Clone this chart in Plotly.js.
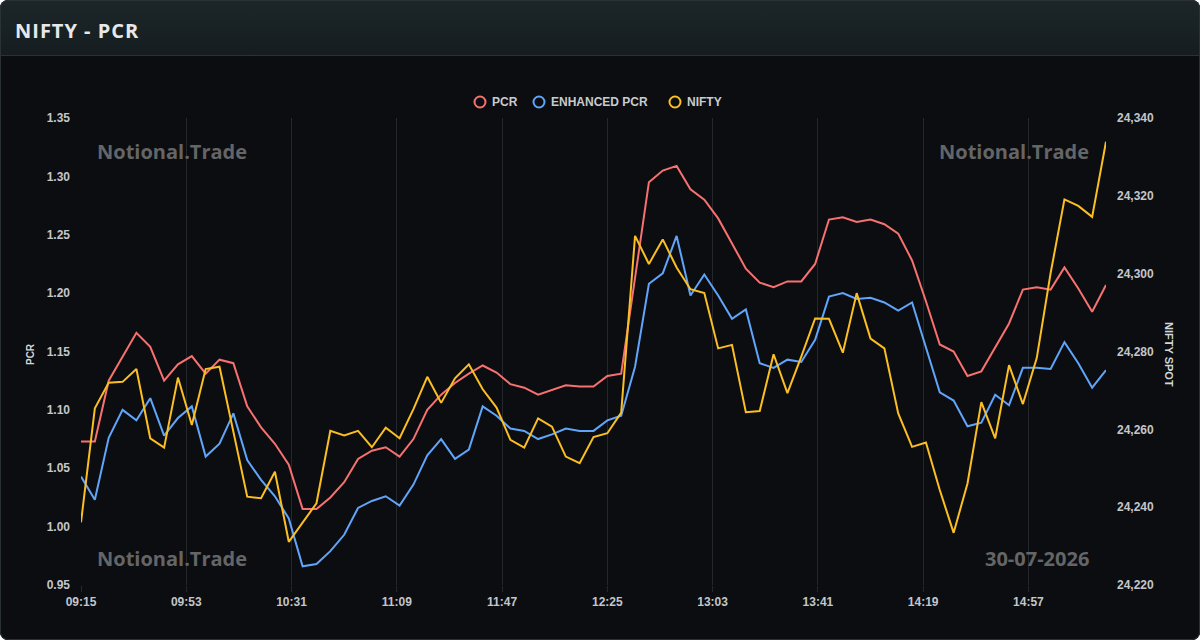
<!DOCTYPE html>
<html>
<head>
<meta charset="utf-8">
<title>NIFTY - PCR</title>
<script src="https://cdn.plot.ly/plotly-3.0.1.min.js"></script>
<style>
  html, body { margin: 0; padding: 0; background: #ffffff; }
  #card { position: relative; width: 1200px; height: 640px; border-radius: 8px; overflow: hidden; background: #0c0d10; }
  #head { position: absolute; left: 0; top: 0; width: 1200px; height: 55px;
          background: linear-gradient(#1c2629, #151d20); border-bottom: 1px solid #2a3235; }
  #head h1 { margin: 0; position: absolute; left: 15px; top: 0; line-height: 61px; letter-spacing: 1px;
             font-family: "Open Sans", "Noto Sans", sans-serif; font-weight: 700; font-size: 20px; color: #e6e8ea; }
  #chart { position: absolute; left: 0; top: 56px; width: 1200px; height: 584px; }
  #frame { position: absolute; left: 0; top: 0; right: 0; bottom: 0; border: 1px solid #2a3235;
           border-radius: 8px; pointer-events: none; }
</style>
</head>
<body>
<div id="card">
  <div id="head"><h1>NIFTY - PCR</h1></div>
  <div id="chart"></div>
  <div id="frame"></div>
</div>
<script>
// 5-minute snapshots for the session
const times = [
  "09:15","09:20","09:25","09:30","09:35","09:40","09:45","09:50","09:55",
  "10:00","10:05","10:10","10:15","10:20","10:25","10:30","10:35","10:40","10:45","10:50","10:55",
  "11:00","11:05","11:10","11:15","11:20","11:25","11:30","11:35","11:40","11:45","11:50","11:55",
  "12:00","12:05","12:10","12:15","12:20","12:25","12:30","12:35","12:40","12:45","12:50","12:55",
  "13:00","13:05","13:10","13:15","13:20","13:25","13:30","13:35","13:40","13:45","13:50","13:55",
  "14:00","14:05","14:10","14:15","14:20","14:25","14:30","14:35","14:40","14:45","14:50","14:55",
  "15:00","15:05","15:10","15:15","15:20","15:25"
];

const pcr = [
  1.073,1.073,1.125,1.146,1.166,1.154,1.125,1.139,1.146,1.131,
  1.143,1.140,1.103,1.085,1.071,1.053,1.015,1.015,1.025,1.038,
  1.058,1.065,1.068,1.060,1.075,1.100,1.113,1.123,1.131,1.138,
  1.132,1.122,1.119,1.113,1.117,1.121,1.120,1.120,1.129,1.131,
  1.213,1.295,1.305,1.309,1.289,1.280,1.264,1.243,1.221,1.209,
  1.205,1.210,1.210,1.225,1.263,1.265,1.261,1.263,1.259,1.251,
  1.228,1.193,1.156,1.150,1.129,1.133,1.153,1.174,1.203,1.205,
  1.203,1.222,1.204,1.184,1.207
];

const enhancedPcr = [
  1.043,1.023,1.076,1.100,1.091,1.110,1.078,1.093,1.103,1.060,
  1.071,1.097,1.057,1.040,1.026,1.007,0.966,0.968,0.979,0.993,
  1.016,1.022,1.026,1.018,1.036,1.061,1.075,1.058,1.066,1.103,
  1.095,1.084,1.082,1.075,1.079,1.084,1.082,1.082,1.091,1.095,
  1.137,1.208,1.217,1.249,1.198,1.216,1.198,1.178,1.186,1.140,
  1.136,1.143,1.141,1.160,1.197,1.200,1.195,1.196,1.192,1.185,
  1.192,1.153,1.115,1.108,1.086,1.089,1.113,1.104,1.136,1.136,
  1.135,1.158,1.140,1.119,1.134
];

const niftySpot = [
  24236.1,24265.4,24272.0,24272.2,24275.5,24257.7,24255.3,24273.3,24261.1,24275.5,
  24276.1,24259.8,24242.7,24242.3,24249.1,24231.1,24235.9,24241.0,24259.6,24258.4,
  24259.6,24255.4,24260.4,24257.7,24265.2,24273.5,24266.8,24273.1,24276.7,24270.3,
  24265.6,24257.3,24255.3,24262.8,24260.7,24253.0,24251.3,24258.0,24259.0,24264.3,
  24309.7,24302.5,24308.8,24301.6,24296.0,24295.0,24280.8,24281.7,24264.4,24264.7,
  24279.3,24269.3,24278.7,24288.5,24288.4,24279.7,24295.0,24283.3,24280.8,24264.1,
  24255.5,24256.6,24244.4,24233.4,24246.1,24267.0,24257.7,24276.5,24266.5,24278.3,
  24300.1,24319.1,24317.4,24314.6,24333.9
];

const seriesNames = ["PCR", "ENHANCED PCR", "NIFTY"];
const sessionDate = "2026-07-30";
const dateLabel = "30-07-2026";
const brand = "Notional.Trade";

const colors = ["#f87171", "#60a5fa", "#fbbf24"];
const x = times.map(t => sessionDate + " " + t);

// plot-area geometry inside the chart div (pixels)
const M = { l: 81, r: 94, t: 62, b: 55 };
const W = 1200, H = 584;
const PW = W - M.l - M.r, PH = H - M.t - M.b;
const px2x = p => (p - M.l) / PW;          // chart-div x pixel -> paper x
const py2y = p => (M.t + PH - p) / PH;     // chart-div y pixel -> paper y

const lineTrace = (y, i, axis) => ({
  type: "scatter", mode: "lines", x: x, y: y, name: seriesNames[i], yaxis: axis,
  line: { color: colors[i], width: 2 }, showlegend: false, hoverinfo: "x+y+name"
});

const data = [
  lineTrace(pcr, 0, "y"),
  lineTrace(enhancedPcr, 1, "y"),
  lineTrace(niftySpot, 2, "y2")
];

const tickFont = { family: "Liberation Sans, Arial, sans-serif", size: 12, color: "#c3c6ca", weight: "bold" };
const markFont = { family: "Open Sans, Noto Sans, sans-serif", size: 20, color: "#646567", weight: "bold" };
const legendFont = { family: "Liberation Sans, Arial, sans-serif", size: 12, color: "#c8cbcf", weight: "bold" };
const gridColor = "#24272c";

// legend row: hollow circle + label per series
const legendY = 46;
const legendCircleX = [480, 539, 675];
const legendShapes = seriesNames.map((n, i) => ({
  type: "circle", xref: "paper", yref: "paper",
  xsizemode: "pixel", ysizemode: "pixel",
  xanchor: px2x(legendCircleX[i]), yanchor: py2y(legendY),
  x0: -5.5, x1: 5.5, y0: -5.5, y1: 5.5,
  line: { color: colors[i], width: 2 }, fillcolor: "rgba(0,0,0,0)"
}));
const legendLabels = seriesNames.map((n, i) => ({
  xref: "paper", yref: "paper", x: px2x(legendCircleX[i] + 9.5), y: py2y(legendY),
  xanchor: "left", yanchor: "middle", text: n, showarrow: false, font: legendFont
}));

const layout = {
  width: W, height: H,
  margin: M,
  paper_bgcolor: "#0c0d10", plot_bgcolor: "#0c0d10",
  font: { family: "Liberation Sans, Arial, sans-serif", color: "#c3c6ca" },
  showlegend: false,
  xaxis: {
    type: "date",
    range: [sessionDate + " 09:15", sessionDate + " 15:25"],
    tick0: sessionDate + " 09:15", dtick: 38 * 60 * 1000, tickformat: "%H:%M",
    showgrid: true, gridcolor: gridColor, gridwidth: 1,
    ticks: "outside", ticklen: 6, tickcolor: gridColor,
    showline: false, zeroline: false, tickfont: tickFont
  },
  yaxis: {
    range: [0.95, 1.35], dtick: 0.05, tickformat: ".2f",
    showgrid: false, zeroline: false, showline: false, ticks: "",
    ticklabelstandoff: 10, tickfont: tickFont
  },
  yaxis2: {
    overlaying: "y", side: "right",
    range: [24220, 24340], dtick: 20, tickformat: ",d",
    showgrid: false, zeroline: false, showline: false, ticks: "",
    ticklabelstandoff: 10, tickfont: tickFont
  },
  shapes: legendShapes,
  annotations: legendLabels.concat([
    { xref: "paper", yref: "paper", x: px2x(95), y: 0.9293, xanchor: "left", yanchor: "middle",
      text: brand, showarrow: false, font: markFont },
    { xref: "paper", yref: "paper", x: px2x(1091), y: 0.9293, xanchor: "right", yanchor: "middle",
      text: brand, showarrow: false, font: markFont },
    { xref: "paper", yref: "paper", x: px2x(95), y: 0.0578, xanchor: "left", yanchor: "middle",
      text: brand, showarrow: false, font: markFont },
    { xref: "paper", yref: "paper", x: px2x(1091), y: 0.0578, xanchor: "right", yanchor: "middle",
      text: dateLabel, showarrow: false, font: markFont },
    { xref: "paper", yref: "paper", x: px2x(30), y: 0.4946, xanchor: "center", yanchor: "middle",
      text: "PCR", textangle: -90, showarrow: false,
      font: { family: "Liberation Sans, Arial, sans-serif", size: 10, color: "#d3d6d9", weight: "bold" } },
    { xref: "paper", yref: "paper", x: px2x(1169), y: 0.4946, xanchor: "center", yanchor: "middle",
      text: "NIFTY SPOT", textangle: 90, showarrow: false,
      font: { family: "Liberation Sans, Arial, sans-serif", size: 11, color: "#d3d6d9", weight: "bold" } }
  ])
};

Plotly.newPlot("chart", data, layout, { displayModeBar: false, staticPlot: true });
</script>
</body>
</html>
